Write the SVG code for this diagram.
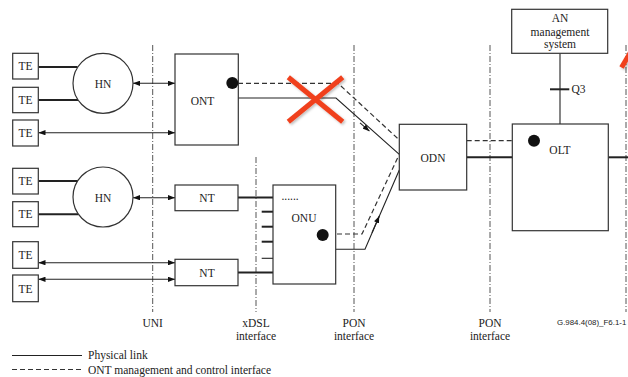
<svg xmlns="http://www.w3.org/2000/svg" width="628" height="377" viewBox="0 0 628 377">
<defs>
<style>
.box{fill:#fff;stroke:#333;stroke-width:1.2}
.t{font-family:"Liberation Serif","Times New Roman",serif;font-size:11.5px;fill:#222;text-anchor:middle}
.tl{font-family:"Liberation Serif","Times New Roman",serif;font-size:11.5px;fill:#222}
.thin{fill:none;stroke:#222;stroke-width:1.1}
.thick{fill:none;stroke:#222;stroke-width:2}
.dash{fill:none;stroke:#333;stroke-width:1.2;stroke-dasharray:5 3}
.dd{fill:none;stroke:#555;stroke-width:1;stroke-dasharray:6 2 1 2}
.dot{fill:#111}
.red{stroke:#f0401e;stroke-width:5;fill:none}
</style>
<marker id="ah" viewBox="0 0 8 6" refX="8" refY="3" markerWidth="7" markerHeight="5.5" markerUnits="userSpaceOnUse" orient="auto-start-reverse">
<path d="M0,0 L8,3 L0,6 z" fill="#111"/>
</marker>
<filter id="sh" x="-20%" y="-20%" width="140%" height="140%">
<feDropShadow dx="1.5" dy="1.5" stdDeviation="1" flood-color="#000" flood-opacity="0.25"/>
</filter>
</defs>
<rect width="628" height="377" fill="#fff"/>

<g id="interfaces">
<line class="dd" x1="152.7" y1="45" x2="152.7" y2="312"/>
<line class="dd" x1="256" y1="157" x2="256" y2="312"/>
<line class="dd" x1="354" y1="45" x2="354" y2="312"/>
<line class="dd" x1="490" y1="45" x2="490" y2="312"/>
<line class="dd" x1="626" y1="45" x2="626" y2="312"/>
</g>

<g id="connectors">
<line class="thick" x1="38.5" y1="67" x2="77.6" y2="67"/>
<line class="thick" x1="38.5" y1="100" x2="78.3" y2="100"/>
<line class="thin" x1="133" y1="83.3" x2="175" y2="83.3" marker-start="url(#ah)" marker-end="url(#ah)"/>
<line class="thin" x1="38.5" y1="132.7" x2="175" y2="132.7" marker-start="url(#ah)" marker-end="url(#ah)"/>
<line class="thick" x1="38.5" y1="181" x2="77.6" y2="181"/>
<line class="thick" x1="38.5" y1="214.3" x2="78.5" y2="214.3"/>
<line class="thin" x1="133" y1="197.7" x2="175" y2="197.7" marker-start="url(#ah)" marker-end="url(#ah)"/>
<line class="thin" x1="38.5" y1="262.7" x2="175" y2="262.7" marker-start="url(#ah)" marker-end="url(#ah)"/>
<line class="thin" x1="38.5" y1="279.3" x2="175" y2="279.3" marker-start="url(#ah)" marker-end="url(#ah)"/>
<line class="thick" x1="238" y1="197.5" x2="273" y2="197.5"/>
<line class="thick" x1="238" y1="272.5" x2="273" y2="272.5"/>
<line class="thick" x1="261.7" y1="211.7" x2="273" y2="211.7"/>
<line class="thick" x1="261.7" y1="226.7" x2="273" y2="226.7"/>
<line class="thick" x1="261.7" y1="241.7" x2="273" y2="241.7"/>
<line class="thin" x1="261.7" y1="258.3" x2="273" y2="258.3"/>
<path class="dash" d="M238,83.3 H338 L399.3,140"/>
<path class="thin" d="M238,98 H336 L399.3,154.3"/>
<path class="thin" d="M360,122.8 L369.5,131.2" marker-end="url(#ah)"/>
<path class="dash" d="M329,234 H362 L398,157"/>
<path class="thin" d="M335.7,249.3 H365 L399.3,170"/>
<path class="thin" d="M372,232.8 L379.3,216" marker-end="url(#ah)"/>
<line class="dash" x1="466.7" y1="140.7" x2="528" y2="140.7"/>
<line class="thick" x1="466.7" y1="157.3" x2="512.3" y2="157.3"/>
<line class="thick" x1="608.3" y1="157.3" x2="628" y2="157.3"/>
<line class="thin" x1="560" y1="53.3" x2="560" y2="124"/>
<line class="thick" x1="550" y1="89.3" x2="569.3" y2="89.3"/>
</g>

<g id="te1"><rect class="box" x="12.7" y="53.3" width="25.6" height="25.7"/><text class="t" x="25.5" y="70">TE</text></g>
<g id="te2"><rect class="box" x="12.7" y="87.3" width="25.6" height="25.4"/><text class="t" x="25.5" y="104">TE</text></g>
<g id="te3"><rect class="box" x="12.7" y="120" width="25.6" height="26"/><text class="t" x="25.5" y="137">TE</text></g>
<g id="te4"><rect class="box" x="12.7" y="168.3" width="25.6" height="25.7"/><text class="t" x="25.5" y="185">TE</text></g>
<g id="te5"><rect class="box" x="12.7" y="201.7" width="25.6" height="25"/><text class="t" x="25.5" y="218">TE</text></g>
<g id="te6"><rect class="box" x="12.7" y="241.7" width="25.6" height="26.6"/><text class="t" x="25.5" y="259">TE</text></g>
<g id="te7"><rect class="box" x="12.7" y="275" width="25.6" height="26.7"/><text class="t" x="25.5" y="292.5">TE</text></g>

<g id="hn1"><circle class="box" cx="103" cy="83.3" r="30"/><text class="t" x="103" y="87.5">HN</text></g>
<g id="hn2"><circle class="box" cx="103" cy="197" r="30"/><text class="t" x="103" y="201.5">HN</text></g>

<g id="ont"><rect class="box" x="175" y="54" width="63.3" height="91"/><text class="t" x="202.5" y="105">ONT</text><circle class="dot" cx="232.3" cy="83" r="6"/></g>
<g id="nt1"><rect class="box" x="175" y="185" width="63" height="25.7"/><text class="t" x="207" y="202">NT</text></g>
<g id="nt2"><rect class="box" x="175" y="259.3" width="63" height="26.4"/><text class="t" x="207" y="276.7">NT</text></g>
<g id="onu"><rect class="box" x="273" y="185" width="62.7" height="99"/><text class="t" x="290" y="199.5">......</text><text class="t" x="304" y="221.5">ONU</text><circle class="dot" cx="322.7" cy="235" r="6"/></g>
<g id="odn"><rect class="box" x="399.3" y="124.3" width="67.4" height="65.7"/><text class="t" x="433" y="161.5">ODN</text></g>
<g id="olt"><rect class="box" x="512.3" y="124" width="96" height="106.7"/><text class="t" x="560" y="154">OLT</text><circle class="dot" cx="534" cy="140.7" r="6"/></g>
<g id="ans"><rect class="box" x="511.7" y="9.3" width="96" height="44"/><text class="t" x="560" y="22.3">AN</text><text class="t" x="560" y="35.5">management</text><text class="t" x="560" y="48">system</text></g>
<text class="tl" x="571.5" y="93">Q3</text>

<g id="labels">
<text class="t" x="152.7" y="327">UNI</text>
<text class="t" x="256" y="327">xDSL</text>
<text class="t" x="256" y="340">interface</text>
<text class="t" x="354" y="327">PON</text>
<text class="t" x="354" y="340">interface</text>
<text class="t" x="490" y="327">PON</text>
<text class="t" x="490" y="340">interface</text>
<text x="557" y="324.5" font-family="Liberation Sans, Arial, sans-serif" font-size="7.9" fill="#222">G.984.4(08)_F6.1-1</text>
</g>

<g id="legend">
<line class="thin" x1="12" y1="355.5" x2="82" y2="355.5"/>
<line class="dash" x1="12" y1="369.5" x2="82" y2="369.5"/>
<text class="tl" x="88" y="359">Physical link</text>
<text class="tl" x="88" y="373.5">ONT management and control interface</text>
</g>

<g id="marks" filter="url(#sh)">
<line class="red" x1="288.3" y1="77.3" x2="342.7" y2="121.7"/>
<line class="red" x1="342.7" y1="77.3" x2="288.3" y2="121.7"/>
<line class="red" x1="621.5" y1="67.5" x2="636" y2="43"/>
</g>
</svg>
